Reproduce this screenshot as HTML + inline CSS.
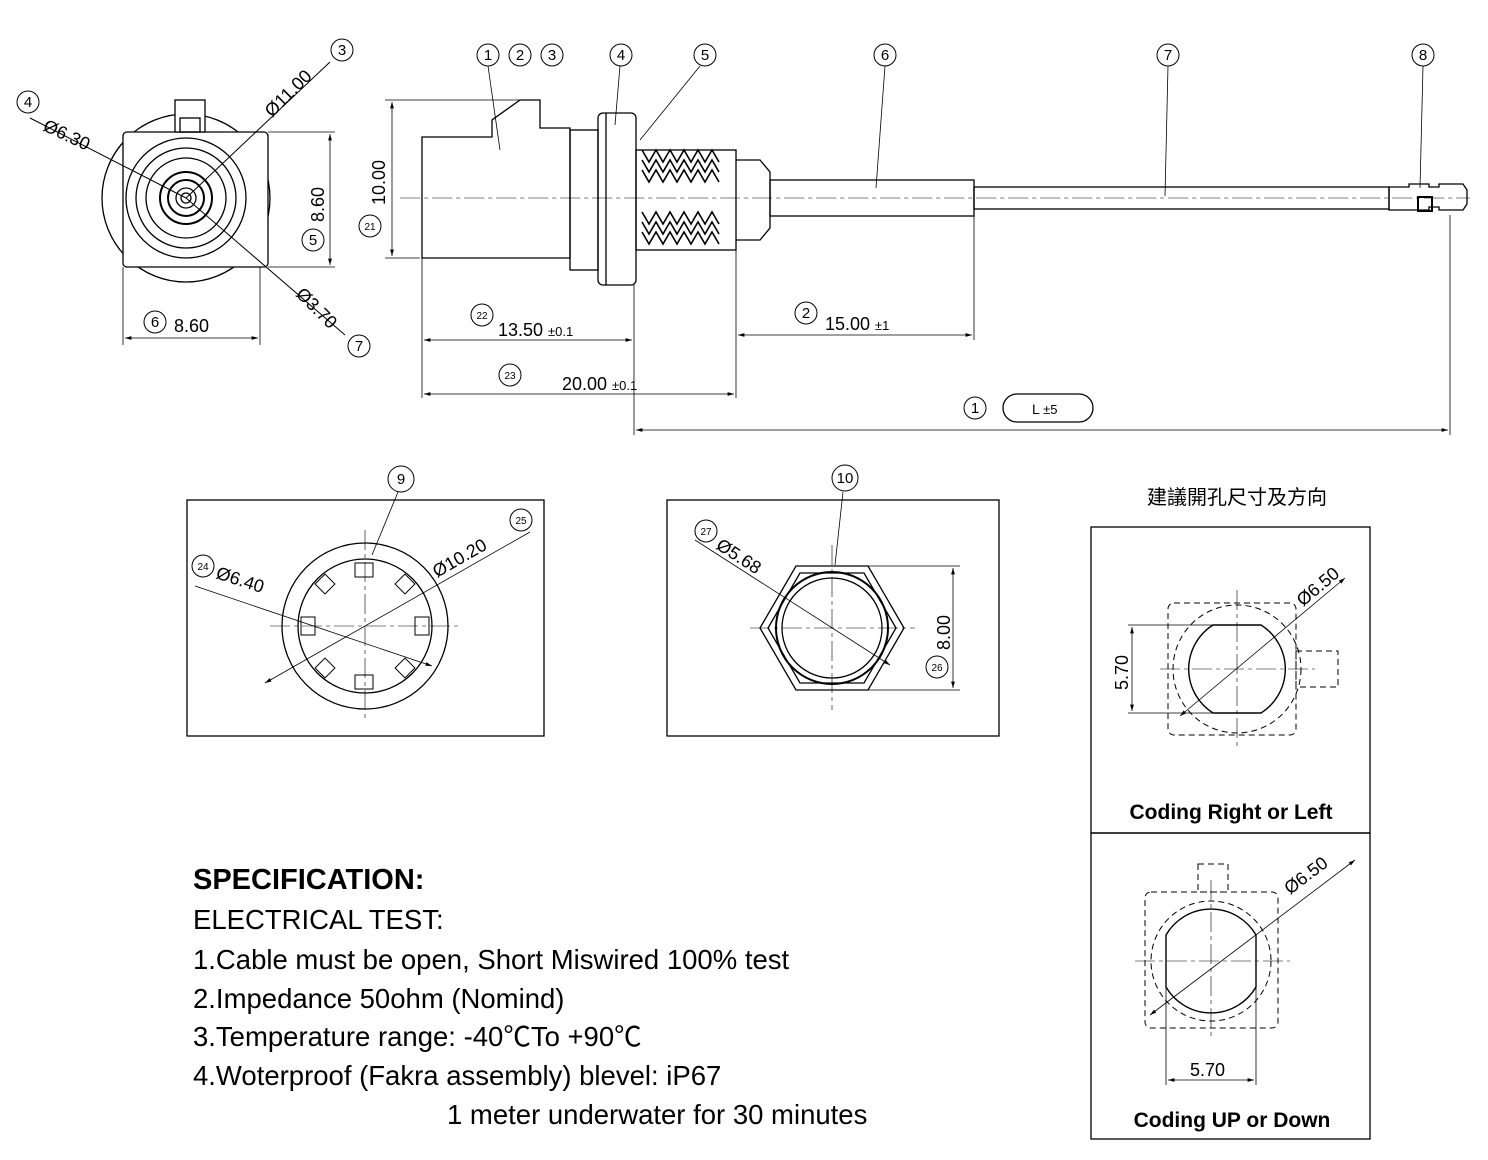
<!DOCTYPE html>
<html><head><meta charset="utf-8"><style>
html,body{margin:0;padding:0;background:#fff}
svg{display:block}
text{font-family:"Liberation Sans","Noto Sans CJK TC",sans-serif;fill:#000}
</style></head><body>
<svg width="1488" height="1160" viewBox="0 0 1488 1160" xmlns="http://www.w3.org/2000/svg">
<defs>
<marker id="a" viewBox="0 0 10 10" refX="10" refY="5" markerWidth="10" markerHeight="8" orient="auto-start-reverse"><path d="M0,2 L10,5 L0,8 z" fill="#000"/></marker>
</defs>
<g fill="none" stroke="#000" stroke-width="1.3">
<circle cx="186" cy="198" r="84"/>
<rect x="123" y="132" width="145" height="135" rx="4" fill="#fff"/>
<rect x="175" y="100" width="30" height="32" fill="#fff"/>
<rect x="180" y="118" width="20" height="14"/>
<circle cx="186" cy="198" r="60"/>
<circle cx="186" cy="198" r="50"/>
<circle cx="186" cy="198" r="40"/>
<circle cx="186" cy="198" r="26" stroke-width="2"/>
<circle cx="186" cy="198" r="18" stroke-width="2"/>
<circle cx="186" cy="198" r="10"/>
<circle cx="186" cy="198" r="5"/>
<line x1="30" y1="118" x2="186" y2="198" stroke-width="1"/>
<line x1="186" y1="198" x2="330" y2="62" stroke-width="1"/>
<line x1="186" y1="198" x2="345" y2="335" stroke-width="1"/>
<line x1="268" y1="132" x2="335" y2="132" stroke-width="0.8"/>
<line x1="268" y1="267" x2="335" y2="267" stroke-width="0.8"/>
<line x1="330" y1="134" x2="330" y2="265" marker-start="url(#a)" marker-end="url(#a)" stroke-width="0.8"/>
<line x1="123" y1="267" x2="123" y2="345" stroke-width="0.8"/>
<line x1="260" y1="267" x2="260" y2="345" stroke-width="0.8"/>
<line x1="125" y1="338" x2="258" y2="338" marker-start="url(#a)" marker-end="url(#a)" stroke-width="0.8"/>

<line x1="385" y1="100" x2="520" y2="100" stroke-width="0.8"/>
<line x1="385" y1="258" x2="420" y2="258" stroke-width="0.8"/>
<line x1="392" y1="102" x2="392" y2="256" marker-start="url(#a)" marker-end="url(#a)" stroke-width="0.8"/>
<path d="M422,137 L492,137 L492,120 L520,100 L540,100 L540,128 L570,128 L570,258 L422,258 Z"/>
<rect x="570" y="130" width="28" height="140"/>
<rect x="598" y="113" width="38" height="172" rx="5"/>
<line x1="606" y1="113" x2="606" y2="285"/>
<rect x="636" y="150" width="100" height="100"/>
<g stroke-width="1.6">
<path d="M642,150 l7,12 l7,-12 l7,12 l7,-12 l7,12 l7,-12 l7,12 l7,-12 l7,12 l7,-12 l7,12 M642,160 l7,12 l7,-12 l7,12 l7,-12 l7,12 l7,-12 l7,12 l7,-12 l7,12 l7,-12 l7,12 M642,170 l7,12 l7,-12 l7,12 l7,-12 l7,12 l7,-12 l7,12 l7,-12 l7,12 l7,-12 l7,12"/>
<path d="M642,212 l7,12 l7,-12 l7,12 l7,-12 l7,12 l7,-12 l7,12 l7,-12 l7,12 l7,-12 l7,12 M642,222 l7,12 l7,-12 l7,12 l7,-12 l7,12 l7,-12 l7,12 l7,-12 l7,12 l7,-12 l7,12 M642,232 l7,12 l7,-12 l7,12 l7,-12 l7,12 l7,-12 l7,12 l7,-12 l7,12 l7,-12 l7,12"/>
</g>
<path d="M736,160 L760,160 L770,172 L770,228 L760,240 L736,240"/>
<rect x="770" y="180" width="204" height="36"/>
<rect x="974" y="187" width="415" height="22"/>
<path d="M1389,187 h20 v-3 h20 v3 h10 v-3 h24 l4,6 v14 l-4,6 h-24 v-3 h-10 v3 h-40 z"/>
<rect x="1418" y="197" width="14" height="14" stroke-width="2"/>
<line x1="400" y1="198" x2="1470" y2="198" stroke-width="0.6" stroke-dasharray="20,4,4,4"/>
<line x1="422" y1="258" x2="422" y2="398" stroke-width="0.8"/>
<line x1="634" y1="285" x2="634" y2="435" stroke-width="0.8"/>
<line x1="736" y1="250" x2="736" y2="398" stroke-width="0.8"/>
<line x1="974" y1="216" x2="974" y2="340" stroke-width="0.8"/>
<line x1="1450" y1="215" x2="1450" y2="435" stroke-width="0.8"/>
<line x1="424" y1="340" x2="632" y2="340" marker-start="url(#a)" marker-end="url(#a)" stroke-width="0.8"/>
<line x1="738" y1="335" x2="972" y2="335" marker-start="url(#a)" marker-end="url(#a)" stroke-width="0.8"/>
<line x1="424" y1="394" x2="734" y2="394" marker-start="url(#a)" marker-end="url(#a)" stroke-width="0.8"/>
<line x1="636" y1="430" x2="1448" y2="430" marker-start="url(#a)" marker-end="url(#a)" stroke-width="0.8"/>
<rect x="1003" y="394" width="90" height="28" rx="14"/>
<line x1="488" y1="66" x2="500" y2="150" stroke-width="0.8"/>
<line x1="620" y1="66" x2="615" y2="125" stroke-width="0.8"/>
<line x1="700" y1="66" x2="640" y2="140" stroke-width="0.8"/>
<line x1="885" y1="66" x2="876" y2="188" stroke-width="0.8"/>
<line x1="1168" y1="66" x2="1165" y2="196" stroke-width="0.8"/>
<line x1="1423" y1="66" x2="1420" y2="188" stroke-width="0.8"/>
<g stroke-width="1">
<circle cx="342" cy="50" r="11"/><circle cx="28" cy="102" r="11"/><circle cx="313" cy="240" r="11"/>
<circle cx="155" cy="322" r="11"/><circle cx="359" cy="346" r="11"/>
<circle cx="488" cy="55" r="11"/><circle cx="520" cy="55" r="11"/><circle cx="552" cy="55" r="11"/>
<circle cx="621" cy="55" r="11"/><circle cx="705" cy="55" r="11"/><circle cx="885" cy="55" r="11"/>
<circle cx="1168" cy="55" r="11"/><circle cx="1423" cy="55" r="11"/>
<circle cx="370" cy="226" r="11"/><circle cx="482" cy="315" r="11"/><circle cx="806" cy="313" r="11"/>
<circle cx="510" cy="375" r="11"/><circle cx="975" cy="408" r="11"/>
<circle cx="401" cy="479" r="13"/><circle cx="845" cy="478" r="13"/>
<circle cx="521" cy="520" r="11"/><circle cx="203" cy="566" r="11"/><circle cx="706" cy="531" r="11"/><circle cx="937" cy="667" r="11"/>
</g>

<rect x="187" y="500" width="357" height="236"/>
<circle cx="365" cy="626" r="83"/>
<circle cx="365" cy="626" r="67"/>
<g stroke-width="1">
<rect x="355" y="563" width="18" height="14"/><rect x="355" y="675" width="18" height="14"/>
<rect x="301" y="617" width="14" height="18"/><rect x="415" y="617" width="14" height="18"/>
<rect x="318" y="577" width="14" height="14" transform="rotate(-45 325 584)"/>
<rect x="398" y="577" width="14" height="14" transform="rotate(45 405 584)"/>
<rect x="318" y="661" width="14" height="14" transform="rotate(45 325 668)"/>
<rect x="398" y="661" width="14" height="14" transform="rotate(-45 405 668)"/>
</g>
<line x1="270" y1="626" x2="460" y2="626" stroke-width="0.6" stroke-dasharray="20,4,4,4"/>
<line x1="365" y1="530" x2="365" y2="720" stroke-width="0.6" stroke-dasharray="20,4,4,4"/>
<line x1="195" y1="586" x2="432" y2="666" stroke-width="0.8" marker-end="url(#a)"/>
<line x1="265" y1="683" x2="530" y2="532" stroke-width="0.8" marker-start="url(#a)"/>
<line x1="398" y1="492" x2="372" y2="555" stroke-width="0.8"/>

<rect x="667" y="500" width="332" height="236"/>
<polygon points="760,628 796,566 868,566 904,628 868,690 796,690"/>
<polygon points="768,628 800,573 864,573 896,628 864,683 800,683"/>
<circle cx="832" cy="628" r="56" stroke-width="2"/>
<circle cx="832" cy="628" r="50"/>
<line x1="750" y1="628" x2="915" y2="628" stroke-width="0.6" stroke-dasharray="20,4,4,4"/>
<line x1="832" y1="545" x2="832" y2="710" stroke-width="0.6" stroke-dasharray="20,4,4,4"/>
<line x1="695" y1="540" x2="890" y2="665" stroke-width="0.8" marker-end="url(#a)"/>
<line x1="843" y1="492" x2="835" y2="565" stroke-width="0.8"/>
<line x1="868" y1="566" x2="960" y2="566" stroke-width="0.8"/>
<line x1="868" y1="690" x2="960" y2="690" stroke-width="0.8"/>
<line x1="953" y1="568" x2="953" y2="688" marker-start="url(#a)" marker-end="url(#a)" stroke-width="0.8"/>

<rect x="1091" y="527" width="279" height="306"/>
<rect x="1091" y="833" width="279" height="306"/>
<g stroke-dasharray="6,4" stroke-width="1">
<rect x="1168" y="603" width="128" height="132" rx="6"/>
<rect x="1296" y="651" width="42" height="36"/>
<circle cx="1237" cy="669" r="64"/>
<rect x="1145" y="892" width="133" height="136" rx="6"/>
<rect x="1198" y="864" width="30" height="28"/>
<circle cx="1211" cy="961" r="60"/>
</g>
<g stroke-width="1.4">
<path d="M1213,625 L1261,625 A52,52 0 0 1 1261,713 L1213,713 A52,52 0 0 1 1213,625 Z"/>
<path d="M1166,935 A52,52 0 0 1 1256,935 L1256,987 A52,52 0 0 1 1166,987 Z"/>
</g>
<line x1="1160" y1="669" x2="1315" y2="669" stroke-width="0.6" stroke-dasharray="20,4,4,4"/>
<line x1="1237" y1="590" x2="1237" y2="750" stroke-width="0.6" stroke-dasharray="20,4,4,4"/>
<line x1="1135" y1="961" x2="1290" y2="961" stroke-width="0.6" stroke-dasharray="20,4,4,4"/>
<line x1="1211" y1="880" x2="1211" y2="1040" stroke-width="0.6" stroke-dasharray="20,4,4,4"/>
<line x1="1128" y1="625" x2="1237" y2="625" stroke-width="0.8"/>
<line x1="1128" y1="713" x2="1237" y2="713" stroke-width="0.8"/>
<line x1="1132" y1="627" x2="1132" y2="711" marker-start="url(#a)" marker-end="url(#a)" stroke-width="0.8"/>
<line x1="1180" y1="716" x2="1345" y2="578" stroke-width="0.8" marker-start="url(#a)" marker-end="url(#a)"/>
<line x1="1150" y1="1015" x2="1355" y2="860" stroke-width="0.8" marker-start="url(#a)" marker-end="url(#a)"/>
<line x1="1166" y1="961" x2="1166" y2="1085" stroke-width="0.8"/>
<line x1="1256" y1="961" x2="1256" y2="1085" stroke-width="0.8"/>
<line x1="1168" y1="1080" x2="1254" y2="1080" marker-start="url(#a)" marker-end="url(#a)" stroke-width="0.8"/>
</g>

<g font-size="15" text-anchor="middle">
<text x="342" y="55">3</text><text x="28" y="107">4</text><text x="313" y="245">5</text><text x="155" y="327">6</text><text x="359" y="351">7</text>
<text x="488" y="60">1</text><text x="520" y="60">2</text><text x="552" y="60">3</text><text x="621" y="60">4</text><text x="705" y="60">5</text>
<text x="885" y="60">6</text><text x="1168" y="60">7</text><text x="1423" y="60">8</text>
<text x="806" y="318">2</text><text x="975" y="413">1</text>
<text x="401" y="484">9</text><text x="845" y="483">10</text>
</g>
<g font-size="10" text-anchor="middle">
<text x="370" y="230">21</text><text x="482" y="319">22</text><text x="510" y="379">23</text>
<text x="521" y="524">25</text><text x="203" y="570">24</text><text x="706" y="535">27</text><text x="937" y="671">26</text>
</g>
<g font-size="18">
<text x="42" y="130" transform="rotate(25 42 130)">Ø6.30</text>
<text x="272" y="118" transform="rotate(-45 272 118)">Ø11.00</text>
<text x="324" y="222" transform="rotate(-90 324 222)">8.60</text>
<text x="295" y="295" transform="rotate(45 295 295)">Ø3.70</text>
<text x="174" y="332">8.60</text>
<text x="385" y="205" transform="rotate(-90 385 205)">10.00</text>
<text x="498" y="336">13.50 <tspan font-size="13">±0.1</tspan></text>
<text x="825" y="330">15.00 <tspan font-size="13">±1</tspan></text>
<text x="562" y="390">20.00 <tspan font-size="13">±0.1</tspan></text>
<text x="1032" y="414" font-size="14">L <tspan font-size="13">±5</tspan></text>
<text x="215" y="578" transform="rotate(18 215 578)">Ø6.40</text>
<text x="437" y="578" transform="rotate(-30 437 578)">Ø10.20</text>
<text x="715" y="548" transform="rotate(33 715 548)">Ø5.68</text>
<text x="950" y="650" transform="rotate(-90 950 650)">8.00</text>
<text x="1303" y="607" transform="rotate(-40 1303 607)">Ø6.50</text>
<text x="1128" y="690" transform="rotate(-90 1128 690)">5.70</text>
<text x="1290" y="895" transform="rotate(-37 1290 895)">Ø6.50</text>
<text x="1190" y="1076">5.70</text>
</g>
<text x="1237" y="504" font-size="20" text-anchor="middle">建議開孔尺寸及方向</text>
<text x="1231" y="819" font-size="21" font-weight="bold" text-anchor="middle">Coding Right or Left</text>
<text x="1232" y="1127" font-size="21" font-weight="bold" text-anchor="middle">Coding UP or Down</text>
<text x="193" y="889" font-size="29" font-weight="bold">SPECIFICATION:</text>
<g font-size="27.5">
<text x="193" y="929">ELECTRICAL TEST:</text>
<text x="193" y="969">1.Cable must be open, Short Miswired 100% test</text>
<text x="193" y="1008">2.Impedance 50ohm (Nomind)</text>
<text x="193" y="1046">3.Temperature range: -40℃To +90℃</text>
<text x="193" y="1085">4.Woterproof (Fakra assembly) blevel: iP67</text>
<text x="447" y="1124">1 meter underwater for 30 minutes</text>
</g>
</svg>
</body></html>
